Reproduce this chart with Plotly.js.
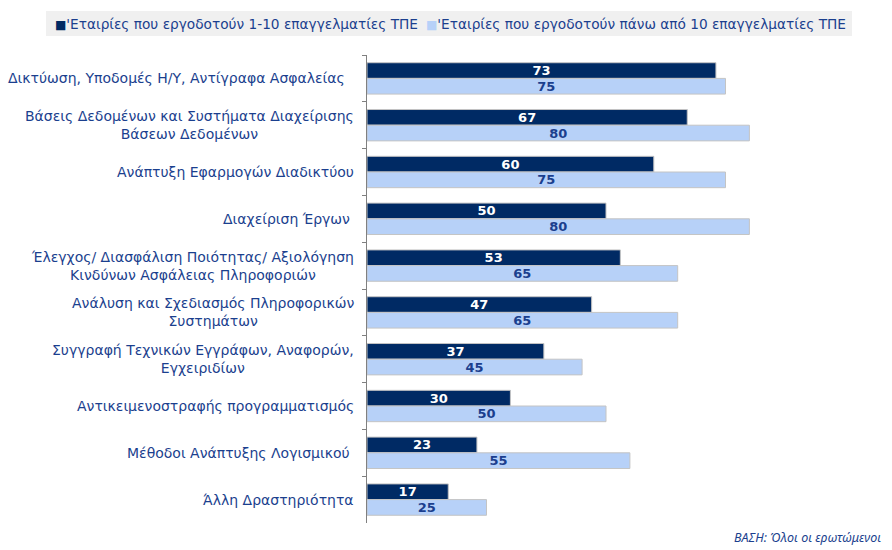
<!DOCTYPE html>
<html>
<head>
<meta charset="utf-8">
<script src="https://cdn.plot.ly/plotly-3.0.1.min.js"></script>
<style>html,body{margin:0;padding:0;background:#fff;}#chart{width:892px;height:550px;}</style>
</head>
<body>
<div id="chart"></div>
<script>
const categories = [
  "Δικτύωση, Υποδομές Η/Υ, Αντίγραφα Ασφαλείας\u00a0\u00a0",
  "Βάσεις Δεδομένων και Συστήματα Διαχείρισης<br>Βάσεων Δεδομένων",
  "Ανάπτυξη Εφαρμογών Διαδικτύου",
  "Διαχείριση Έργων\u00a0",
  "Έλεγχος/ Διασφάλιση Ποιότητας/ Αξιολόγηση<br>Κινδύνων Ασφάλειας Πληροφοριών",
  "Ανάλυση και Σχεδιασμός Πληροφορικών<br>Συστημάτων",
  "Συγγραφή Τεχνικών Εγγράφων, Αναφορών,<br>Εγχειριδίων",
  "Αντικειμενοστραφής προγραμματισμός",
  "Μέθοδοι Ανάπτυξης Λογισμικού\u00a0",
  "Άλλη Δραστηριότητα"
];
const seriesNames = [
  "'Εταιρίες που εργοδοτούν 1-10 επαγγελματίες ΤΠΕ",
  "'Εταιρίες που εργοδοτούν πάνω από 10 επαγγελματίες ΤΠΕ"
];
const small = [73, 67, 60, 50, 53, 47, 37, 30, 23, 17];
const large = [75, 80, 75, 80, 65, 65, 45, 50, 55, 25];
const footnote = "ΒΑΣΗ: Όλοι οι ερωτώμενοι";

const navy = "#002A64";
const light = "#B7D1F8";
const labelColor = "#1B3F8E";
const colors = [navy, light];

function barTrace(vals, name, color, txtColor) {
  return {
    type: "bar", orientation: "h", name: name,
    x: vals, y: categories,
    marker: {color: color, line: {color: "#c4c4c4", width: 1}},
    text: vals.map(String), textposition: "inside", insidetextanchor: "middle",
    constraintext: "none", textangle: 0, cliponaxis: false,
    textfont: {family: "DejaVu Sans", size: 13, color: txtColor, weight: "bold"},
    hoverinfo: "skip", showlegend: false
  };
}

const data = [
  barTrace(small, seriesNames[0], navy, "#ffffff"),
  barTrace(large, seriesNames[1], light, labelColor)
];

// plot area: x 367..845 (478px), y 55..523 (468px)
const PW = 478, PH = 468, PL = 367, PT = 55;
const px = v => (v - PL) / PW;
const py = v => (PT + PH - v) / PH;

const annotations = categories.map(c => ({
  xref: "paper", yref: "y", x: 0, y: c, xanchor: "right", yanchor: "middle",
  xshift: -11, text: c, showarrow: false, align: "center",
  font: {family: "DejaVu Sans", size: 14, color: labelColor}
}));

// legend (manual, to match compact reference layout)
const legendX = [53, 424];
seriesNames.forEach((n, i) => {
  annotations.push({
    xref: "paper", yref: "paper", x: px(legendX[i]), y: py(23.5),
    xanchor: "left", yanchor: "middle", showarrow: false,
    text: "<span style='font-size:12px;color:" + colors[i] + "'>■</span>" + n,
    font: {family: "DejaVu Sans", size: 13.7, color: labelColor}
  });
});

annotations.push({
  xref: "paper", yref: "paper", x: px(883), y: py(537), xanchor: "right", yanchor: "middle",
  text: "<i>" + footnote + "</i>", showarrow: false,
  font: {family: "Noto Sans", size: 12.5, color: labelColor}
});

const layout = {
  width: 892, height: 550,
  margin: {l: 367, r: 892 - 367 - PW, t: PT, b: 550 - PT - PH},
  paper_bgcolor: "#ffffff", plot_bgcolor: "#ffffff",
  barmode: "group", bargap: 0.33, bargroupgap: 0,
  showlegend: false,
  shapes: [{
    type: "rect", xref: "paper", yref: "paper",
    x0: px(46), x1: px(852), y0: py(36), y1: py(11),
    fillcolor: "#f0f0f0", line: {width: 0}, layer: "below"
  }],
  xaxis: {range: [0, 100], showgrid: false, zeroline: false, showticklabels: false, showline: false, ticks: ""},
  yaxis: {
    autorange: "reversed", type: "category", showticklabels: false,
    showline: true, linecolor: "#808080", linewidth: 1,
    ticks: "outside", tickson: "boundaries", ticklen: 4, tickcolor: "#808080",
    showgrid: false, zeroline: false
  },
  annotations: annotations
};

Plotly.newPlot("chart", data, layout, {displayModeBar: false, staticPlot: true});
</script>
</body>
</html>
